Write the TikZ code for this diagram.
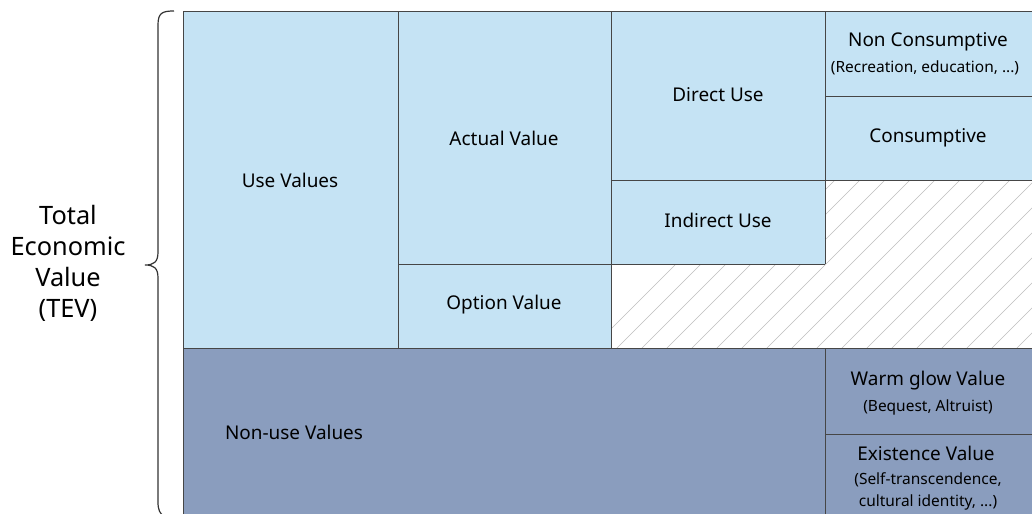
\documentclass[tikz,border=0pt]{standalone}
\usepackage{fontspec}
\setmainfont{Noto Sans}
\definecolor{lightblue}{RGB}{197,227,244}
\definecolor{darkblue}{RGB}{138,157,190}
\definecolor{cellline}{RGB}{70,70,70}
\definecolor{hatchgray}{RGB}{190,190,190}
\begin{document}
\begin{tikzpicture}[x=0.75pt,y=-0.75pt,
  lbl/.style={font=\fontsize{14.2}{17}\selectfont, inner sep=0pt},
  sub/.style={font=\fontsize{11.6}{14}\selectfont, inner sep=0pt},
  grid/.style={draw=cellline, line width=0.6pt},
  brace/.style={draw=black!80, line width=0.9pt}]
\useasboundingbox (0,0) rectangle (1032,514);
% fills
\fill[lightblue] (183,11) rectangle (1032,348);
\fill[white] (611,264) -- (825,264) -- (825,180) -- (1032,180) -- (1032,348) -- (611,348) -- cycle;
\begin{scope}
  \clip (611,264) -- (825,264) -- (825,180) -- (1032,180) -- (1032,348) -- (611,348) -- cycle;
  \foreach \i in {0,...,40} {
    \draw[hatchgray, line width=0.5pt] (580+25*\i,360) -- ++(200,-200);
  }
\end{scope}
\fill[darkblue] (183,348) rectangle (1032,514);
% grid lines
\draw[grid] (183,514) -- (183,11) -- (1032,11);
\draw[grid] (398,11) -- (398,348);
\draw[grid] (611,11) -- (611,348);
\draw[grid] (825,11) -- (825,264);
\draw[grid] (398,264) -- (825,264);
\draw[grid] (611,180) -- (1032,180);
\draw[grid] (825,96) -- (1032,96);
\draw[grid] (183,348) -- (1032,348);
\draw[grid] (825,348) -- (825,514);
\draw[grid] (825,434) -- (1032,434);
% labels
\node[lbl] (use) at (290,180) {Use Values};
\node[lbl] (actual) at (504,138) {Actual Value};
\node[lbl] (option) at (504,305) {Option Value};
\node[lbl] (direct) at (718,95) {Direct Use};
\node[lbl] (indirect) at (718,220) {Indirect Use};
\node[lbl] (noncons) at (928,42) {Non Consumptive};
\node[sub] (nonconssub) at (925,68) {(Recreation, education, ...)};
\node[lbl] (cons) at (928,138) {Consumptive};
\node[lbl] (nonuse) at (294,432) {Non-use Values};
\node[lbl] (warm) at (928,381) {Warm glow Value};
\node[sub] (warmsub) at (928,407) {(Bequest, Altruist)};
\node[lbl] (exist) at (926,453) {Existence Value};
\node[sub] (existsub1) at (928,480) {(Self-transcendence,};
\node[sub] (existsub2) at (928,502) {cultural identity, ...)};
% brace
\draw[brace] (174,11) .. controls (162,11) and (158,13) .. (158,25) -- (158,252) .. controls (158,262) and (154,265) .. (145,265)
  .. controls (154,265) and (158,268) .. (158,278) -- (158,502) .. controls (158,510) and (160,514) .. (164,516);
\node[font=\fontsize{19}{23.3}\selectfont, align=center] (tev) at (68,263) {Total\\Economic\\Value\\(TEV)};
\end{tikzpicture}
\end{document}
